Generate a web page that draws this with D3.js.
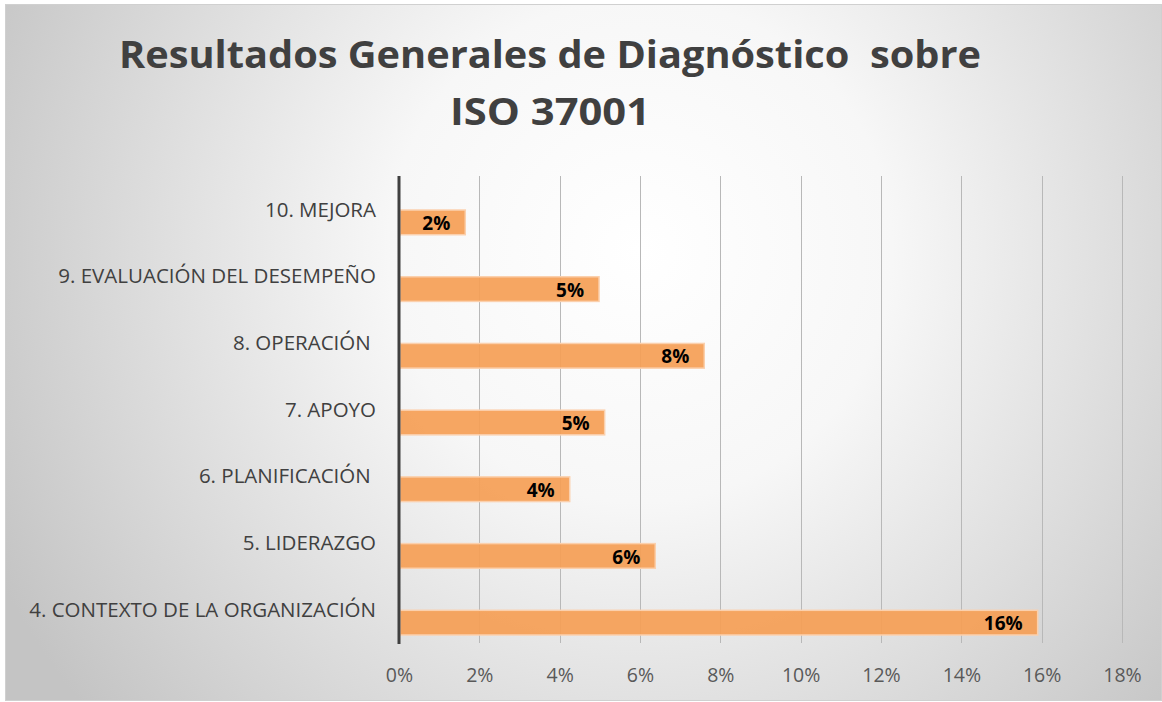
<!DOCTYPE html>
<html>
<head>
<meta charset="utf-8">
<script src="https://cdn.jsdelivr.net/npm/d3@7"></script>
<style>
  body { margin: 0; background: #fff; }
  svg { display: block; }
</style>
</head>
<body>
<svg></svg>
<script>
// Chart data
const titleLines = ["Resultados Generales de Diagnóstico  sobre", "ISO 37001"];
const categories = [
    "10. MEJORA",
    "9. EVALUACIÓN DEL DESEMPEÑO",
    "8. OPERACIÓN ",
    "7. APOYO",
    "6. PLANIFICACIÓN ",
    "5. LIDERAZGO",
    "4. CONTEXTO DE LA ORGANIZACIÓN"
];
const values = [1.65, 4.98, 7.6, 5.12, 4.25, 6.38, 15.9]; // percent
const xTicks = [0, 2, 4, 6, 8, 10, 12, 14, 16, 18];

const W = 1162, H = 702;
const margin = { top: 176, right: 40, bottom: 58, left: 399 };
const width = 1122 - margin.left,
      height = 643 - margin.top;

const svg = d3.select("svg")
    .attr("width", W)
    .attr("height", H);

// Radial background like the Excel chart area
const grad = svg.append("defs").append("radialGradient")
    .attr("id", "bg")
    .attr("gradientUnits", "userSpaceOnUse")
    .attr("cx", 640).attr("cy", 250).attr("r", 720);
grad.append("stop").attr("offset", "0").attr("stop-color", "#ffffff");
grad.append("stop").attr("offset", "0.35").attr("stop-color", "#f7f7f7");
grad.append("stop").attr("offset", "1").attr("stop-color", "#c4c4c4");

svg.append("rect")
    .attr("x", 5.5).attr("y", 4.5)
    .attr("width", W - 6).attr("height", H - 6)
    .attr("fill", "url(#bg)")
    .attr("stroke", "#d0d0d0");

// Title
svg.append("g")
    .selectAll("text")
    .data(titleLines)
    .join("text")
        .attr("x", 550)
        .attr("y", (d, i) => 68 + i * 57)
        .attr("text-anchor", "middle")
        .attr("textLength", (d, i) => i === 0 ? 862 : 200)
        .attr("lengthAdjust", "spacingAndGlyphs")
        .style("white-space", "pre")
        .style("font-family", "'Open Sans', sans-serif")
        .style("font-size", "37px")
        .style("font-weight", "bold")
        .style("fill", "#404040")
        .text(d => d);

const g = svg.append("g")
    .attr("transform", `translate(${margin.left},${margin.top})`);

// Scales
const x = d3.scaleLinear()
    .domain([0, 18])
    .range([0, width]);

const y = d3.scaleBand()
    .domain(categories)
    .range([0, height]);

// Vertical grid lines
g.append("g")
    .selectAll("line")
    .data(xTicks.slice(1))
    .join("line")
        .attr("x1", d => Math.round(x(d)) + 0.5)
        .attr("x2", d => Math.round(x(d)) + 0.5)
        .attr("y1", 0)
        .attr("y2", height)
        .attr("stroke", "#b8b8b8")
        .attr("stroke-width", 1);

// x axis tick labels
g.append("g")
    .attr("transform", `translate(0,${height})`)
    .call(d3.axisBottom(x).tickValues(xTicks).tickFormat(d => d + "%").tickSize(0).tickPadding(25))
    .call(a => a.select(".domain").remove())
    .call(a => a.selectAll("text")
        .style("font-family", "'Open Sans', sans-serif")
        .style("font-size", "19.5px")
        .style("fill", "#595959"));

// Bars (sit in the lower part of each band, as in the source)
const barTop = 0.51, barH = 0.37;
g.append("g")
    .selectAll("rect")
    .data(values)
    .join("rect")
        .attr("x", 1)
        .attr("y", (d, i) => y(categories[i]) + y.bandwidth() * barTop)
        .attr("width", d => x(d) - 1)
        .attr("height", y.bandwidth() * barH)
        .attr("fill", "#f59e55")
        .attr("fill-opacity", 0.92)
        .attr("stroke", "#fbd0ad")
        .attr("stroke-width", 1.5);

// Data labels, inside end of bars
g.append("g")
    .selectAll("text")
    .data(values)
    .join("text")
        .attr("x", d => x(d) - 15)
        .attr("y", (d, i) => y(categories[i]) + y.bandwidth() * (barTop + barH / 2))
        .attr("dy", "0.4em")
        .attr("text-anchor", "end")
        .style("font-family", "'Open Sans', sans-serif")
        .style("font-size", "19px")
        .style("font-weight", "bold")
        .style("fill", "#000")
        .text(d => d3.format(".0f")(d) + "%");

// Category labels at band centre
g.append("g")
    .selectAll("text")
    .data(categories)
    .join("text")
        .attr("x", -23)
        .attr("y", d => y(d) + y.bandwidth() / 2)
        .attr("dy", "0.35em")
        .attr("text-anchor", "end")
        .style("white-space", "pre")
        .style("font-family", "'Open Sans', sans-serif")
        .style("font-size", "20.5px")
        .style("fill", "#404040")
        .text(d => d);

// Left axis line
g.append("line")
    .attr("x1", 0).attr("x2", 0)
    .attr("y1", 0).attr("y2", height + 1)
    .attr("stroke", "#404040")
    .attr("stroke-width", 3);
</script>
</body>
</html>
